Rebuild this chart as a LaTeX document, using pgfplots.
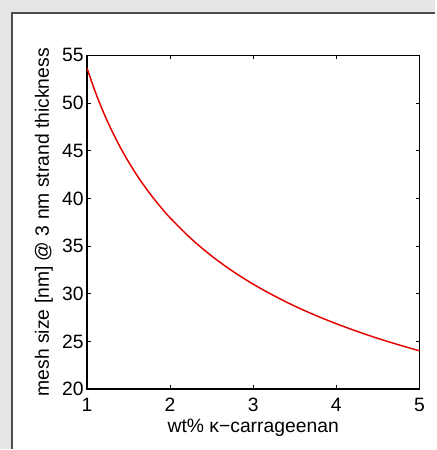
\documentclass[border=0pt]{standalone}
\usepackage{pgfplots}
\pgfplotsset{compat=1.18}
\usepackage{fontspec}
\setmainfont{Liberation Sans}
\begin{document}
\begin{tikzpicture}
% background: grey page, white panel (1px = 0.75pt, axis south west at origin)
\fill[black!10] (-65.25pt,-45.375pt) rectangle (261.75pt,292.125pt);
\fill[white] (-56.25pt,-45.375pt) rectangle (261.75pt,282.375pt);
\draw[black!70, line width=0.8pt] (-56.25pt,-45.375pt) -- (-56.25pt,282.375pt) -- (261.75pt,282.375pt);
\begin{axis}[
  at={(0,0)}, anchor=south west,
  scale only axis, width=249.75pt, height=250.5pt,
  xmin=1, xmax=5, ymin=20, ymax=55,
  xtick={1,2,3,4,5}, ytick={20,25,...,55},
  tick align=inside, major tick length=3pt,
  axis line style={line width=1.2pt},
  every tick/.style={black, line width=0.8pt},
  tick label style={font=\fontsize{14.5}{16}\selectfont},
  label style={font=\fontsize{14.5}{16}\selectfont},
  /pgf/number format/assume math mode=true,
  xticklabel style={yshift=-3pt},
  yticklabel style={xshift=1pt},
  xlabel={wt\% κ−carrageenan},
  ylabel={mesh size [nm] @ 3 nm strand thickness},
  xlabel style={yshift=1pt},
  ylabel style={yshift=0pt},
]
\addplot[red!90!black, line width=1.1pt, smooth] coordinates {
(1.0,53.70) (1.1,51.20) (1.2,49.02) (1.3,47.10) (1.4,45.39)
(1.5,43.85) (1.6,42.45) (1.7,41.19) (1.8,40.03) (1.9,38.96)
(2.0,37.97) (2.25,35.80) (2.5,33.96) (2.75,32.38) (3.0,31.00)
(3.25,29.79) (3.5,28.70) (3.75,27.73) (4.0,26.85) (4.25,26.05)
(4.5,25.31) (4.75,24.64) (5.0,24.01)
};
\end{axis}
\end{tikzpicture}
\end{document}
